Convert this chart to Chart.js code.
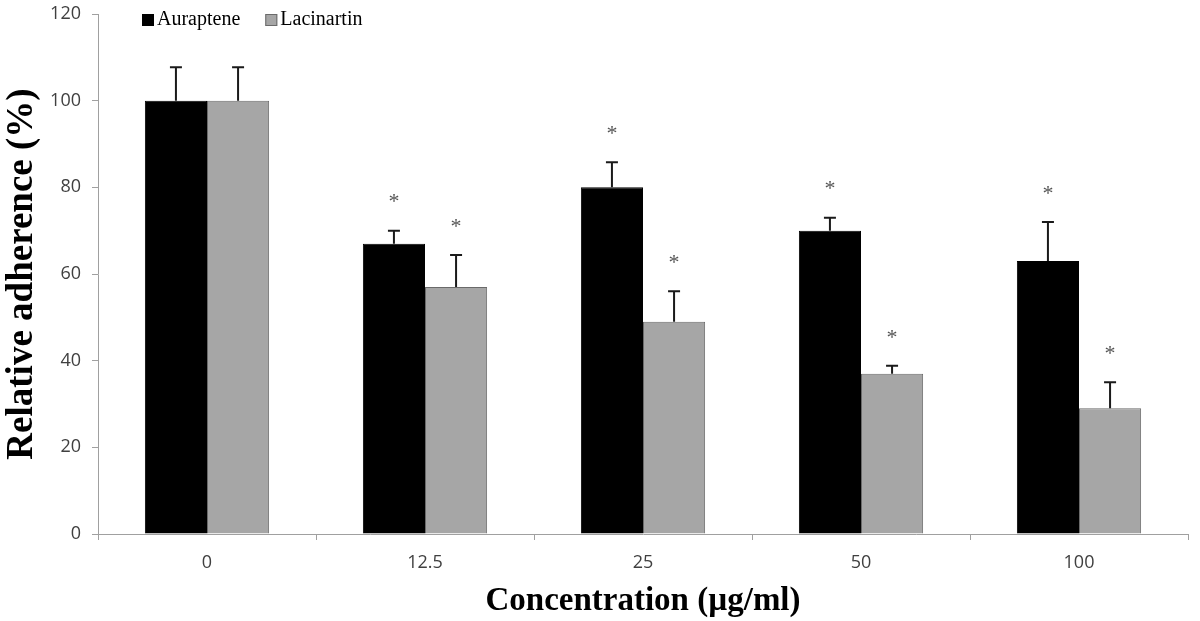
<!DOCTYPE html>
<html>
<head>
<meta charset="utf-8">
<script src="https://cdn.jsdelivr.net/npm/chart.js@4.4.1/dist/chart.umd.min.js"></script>
<style>
  html, body { margin: 0; padding: 0; background: #fff; }
  #wrap { width: 1200px; height: 621px; }
</style>
</head>
<body>
<div id="wrap"><canvas id="adherenceChart" width="1200" height="621"></canvas></div>
<script>
const concentrations = ["0", "12.5", "25", "50", "100"];
const auraptene = [100, 67, 80, 70, 63];
const aurapteneErr = [7.7, 3, 5.8, 3, 9];
const lacinartin = [100, 57, 49, 37, 29];
const lacinartinErr = [7.7, 7.4, 7, 1.8, 6];
const aurapteneSig = [false, true, true, true, true];
const lacinartinSig = [false, true, true, true, true];
const yTicks = [0, 20, 40, 60, 80, 100, 120];

const serif = "'Liberation Serif', 'Times New Roman', serif";
const sans = "'Open Sans', 'Liberation Sans', sans-serif";

// error bars (upward only) and significance stars
const errorBarPlugin = {
    id: "errorBars",
    afterDatasetsDraw(chart) {
        const ctx = chart.ctx;
        const y = chart.scales.y;
        chart.data.datasets.forEach((ds, di) => {
            const meta = chart.getDatasetMeta(di);
            meta.data.forEach((bar, i) => {
                const top = y.getPixelForValue(ds.data[i] + ds.errors[i]);
                ctx.save();
                ctx.strokeStyle = "#1a1a1a";
                ctx.lineWidth = 2;
                ctx.beginPath();
                ctx.moveTo(bar.x, bar.y);
                ctx.lineTo(bar.x, top);
                ctx.moveTo(bar.x - 6, top);
                ctx.lineTo(bar.x + 6, top);
                ctx.stroke();
                if (ds.sig[i]) {
                    ctx.fillStyle = "#555";
                    ctx.font = "22px " + serif;
                    ctx.textAlign = "center";
                    ctx.textBaseline = "middle";
                    ctx.fillText("*", bar.x, top - 28);
                }
                ctx.restore();
            });
        });
    }
};

// legend drawn at the upper left, inside the plot
const legendPlugin = {
    id: "cornerLegend",
    afterDraw(chart) {
        const ctx = chart.ctx;
        let x = 142;
        const yMid = 20;
        ctx.save();
        ctx.font = "20px " + serif;
        ctx.textBaseline = "middle";
        chart.data.datasets.forEach((ds) => {
            ctx.fillStyle = ds.backgroundColor;
            ctx.fillRect(x, yMid - 6, 12, 12);
            ctx.strokeStyle = ds.borderColor;
            ctx.lineWidth = 1;
            ctx.strokeRect(x + 0.5, yMid - 5.5, 11, 11);
            ctx.fillStyle = "#000";
            ctx.fillText(ds.label, x + 15, yMid);
            x += 15 + ctx.measureText(ds.label).width + 25;
        });
        ctx.restore();
    }
};

const ctx = document.getElementById("adherenceChart").getContext("2d");

new Chart(ctx, {
    type: "bar",
    plugins: [errorBarPlugin, legendPlugin],
    data: {
        labels: concentrations,
        datasets: [
            {
                label: "Auraptene",
                data: auraptene,
                errors: aurapteneErr,
                sig: aurapteneSig,
                backgroundColor: "#000000",
                borderColor: "#000000",
                borderWidth: 1
            },
            {
                label: "Lacinartin",
                data: lacinartin,
                errors: lacinartinErr,
                sig: lacinartinSig,
                backgroundColor: "#a6a6a6",
                borderColor: "#6a6a6a",
                borderWidth: 1
            }
        ]
    },
    options: {
        responsive: false,
        animation: false,
        layout: { padding: { left: 0, right: 12, top: 14, bottom: 0 } },
        datasets: {
            bar: { barPercentage: 1, categoryPercentage: 0.57 }
        },
        plugins: {
            legend: { display: false },
            tooltip: { enabled: false }
        },
        scales: {
            y: {
                min: 0,
                max: 120,
                afterBuildTicks: (scale) => {
                    scale.ticks = yTicks.map((v) => ({ value: v }));
                },
                afterFit: (scale) => {
                    scale.width = 98;
                    scale.paddingTop = 0;
                    scale.paddingBottom = 0;
                },
                border: { color: "#a0a0a0", width: 1 },
                grid: {
                    drawOnChartArea: false,
                    tickLength: 6,
                    color: "#a0a0a0"
                },
                ticks: {
                    color: "#404040",
                    padding: 11,
                    font: { family: sans, size: 18 }
                },
                title: {
                    display: true,
                    text: "Relative adherence (%)",
                    color: "#000",
                    padding: { top: 0, bottom: 4 },
                    font: { family: serif, size: 37, weight: "bold" }
                }
            },
            x: {
                afterFit: (scale) => { scale.height = 87; },
                border: { color: "#a0a0a0", width: 1 },
                grid: {
                    offset: true,
                    drawOnChartArea: false,
                    tickLength: 6,
                    color: "#a0a0a0"
                },
                ticks: {
                    color: "#404040",
                    padding: 12,
                    font: { family: sans, size: 18 }
                },
                title: {
                    display: true,
                    text: "Concentration (µg/ml)",
                    color: "#000",
                    padding: { top: 2, bottom: 0 },
                    font: { family: serif, size: 33, weight: "bold" }
                }
            }
        }
    }
});
</script>
</body>
</html>
